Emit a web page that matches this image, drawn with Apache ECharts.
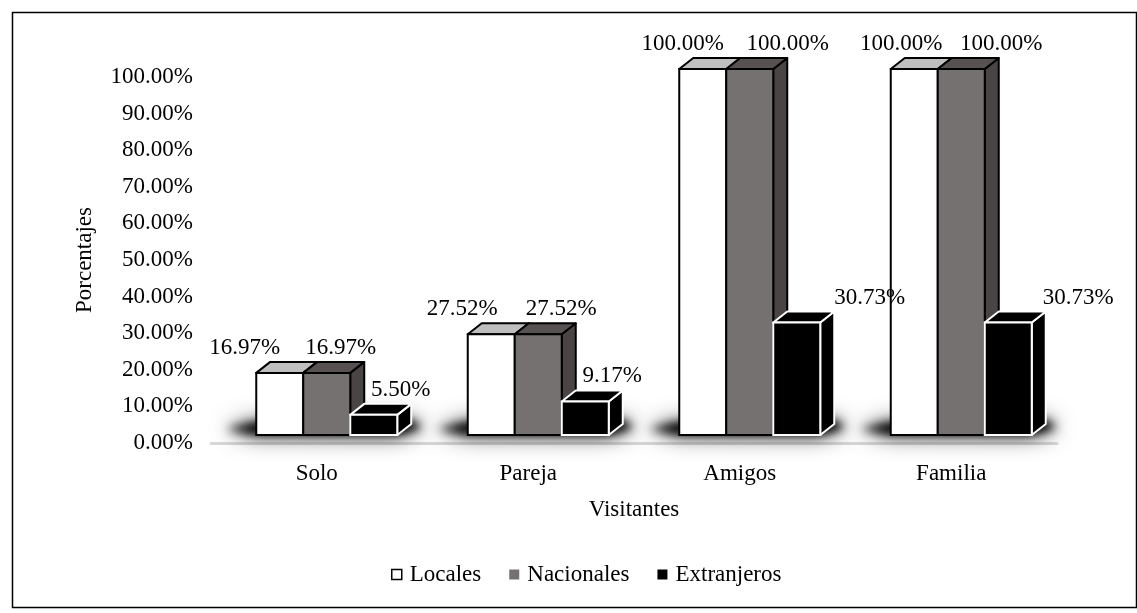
<!DOCTYPE html>
<html>
<head>
<meta charset="utf-8">
<title>Visitantes</title>
<script src="https://cdn.jsdelivr.net/npm/echarts@6/dist/echarts.min.js"></script>
<style>
html,body{margin:0;padding:0;background:#fff;}
#main{width:1137px;height:613px;}
</style>
</head>
<body>
<div id="main"></div>
<script>
//类别
var categories = ['Solo', 'Pareja', 'Amigos', 'Familia'];
//系列名称
var seriesNames = ['Locales', 'Nacionales', 'Extranjeros'];
//数值(百分比)
var locales     = [16.97, 27.52, 100.00, 100.00];
var nacionales  = [16.97, 27.52, 100.00, 100.00];
var extranjeros = [5.50, 9.17, 30.73, 30.73];
//y轴刻度
var yMin = 0, yMax = 100, yStep = 10;

//样式: 正面/顶面/侧面/边框
var faceColors = [
	{front: '#ffffff', top: '#bfbfbf', side: '#808080', stroke: '#000000'},
	{front: '#767171', top: '#575151', side: '#4a4444', stroke: '#000000'},
	{front: '#000000', top: '#000000', side: '#000000', stroke: '#ffffff'}
];
//标签水平偏移(相对柱子正面中心)
var labelDx = [
	[-35, -29, -20, -13],
	[14, 23, 38, 40],
	[27, 27, 73, 70]
];
var barW = 47;        //柱宽
var depthX = 14, depthY = 11; //3D深度
var groupDx = 10;     //组偏移
var liftY = 8;        //柱子相对坐标轴上移
var fontName = 'Liberation Serif';
var fontSize = 23;
var far = 2000;       //阴影形状移出画面, 只显示模糊的影子

var myChart = echarts.init(document.getElementById('main'));

//画3D柱
var makeBar = function(k){
	return function(params, api){
		var idx = api.value(0);
		var v = api.value(1);
		var base = api.coord([idx, 0]);
		var topPt = api.coord([idx, v]);
		var x0 = base[0] + groupDx - barW * 1.5 + k * barW;
		var x1 = x0 + barW;
		var yb = base[1] - liftY;
		var yt = topPt[1] - liftY;
		var c = faceColors[k];
		var lw = 2;
		var txt = v.toFixed(2) + '%';
		return {
			type: 'group',
			children: [
				{type: 'polygon', shape: {points: [[x1, yb], [x1 + depthX, yb - depthY], [x1 + depthX, yt - depthY], [x1, yt]]},
					style: {fill: c.side, stroke: c.stroke, lineWidth: lw, lineJoin: 'round'}},
				{type: 'polygon', shape: {points: [[x0, yt], [x1, yt], [x1 + depthX, yt - depthY], [x0 + depthX, yt - depthY]]},
					style: {fill: c.top, stroke: c.stroke, lineWidth: lw, lineJoin: 'round'}},
				{type: 'rect', shape: {x: x0, y: yt, width: barW, height: yb - yt},
					style: {fill: c.front, stroke: c.stroke, lineWidth: lw}},
				{type: 'text', x: (x0 + x1) / 2 + labelDx[k][idx], y: yt - 25,
					style: {text: txt, fill: '#000', font: fontSize + 'px "' + fontName + '"', align: 'center', verticalAlign: 'middle'}}
			]
		};
	};
};

//地面阴影(柱子底部左右的模糊阴影)
var renderShadow = function(params, api){
	var idx = api.value(0);
	var base = api.coord([idx, 0]);
	var x0 = base[0] + groupDx - barW * 1.5;
	var x1 = x0 + barW * 3 + depthX;
	var yb = base[1] - liftY;
	var left = x0 - 30, right = x1 + 10;
	var pts = [[left, yb - 6], [x0, yb - 2], [x1 - depthX, yb - 2], [right, yb - 8], [x1, yb - depthY - 2], [x0, yb - depthY]];
	var layer = function(blur){
		return {
			type: 'polygon', y: far,
			shape: {points: pts},
			style: {fill: '#000', shadowBlur: blur, shadowColor: '#000', shadowOffsetY: -far}
		};
	};
	return {type: 'group', children: [layer(24), layer(14), layer(8)]};
};

var toData = function(arr){
	var out = [];
	for(var i = 0; i < arr.length; i++){
		out.push([i, arr[i]]);
	}
	return out;
};

var option = {
	backgroundColor: '#fff',
	animation: false,
	textStyle: {fontFamily: fontName, color: '#000'},
	grid: {left: 211, right: 80, top: 77, bottom: 170},
	legend: {
		bottom: 22, left: 386,
		itemWidth: 10, itemHeight: 10, itemGap: 28,
		textStyle: {fontFamily: fontName, fontSize: fontSize, color: '#000', padding: [0, 0, 0, 3]},
		data: [
			{name: seriesNames[0], icon: 'rect', itemStyle: {color: '#fff', borderColor: '#000', borderWidth: 1.5}},
			{name: seriesNames[1], icon: 'rect', itemStyle: {color: '#767171', borderWidth: 0}},
			{name: seriesNames[2], icon: 'rect', itemStyle: {color: '#000', borderWidth: 0}}
		]
	},
	xAxis: {
		type: 'category',
		data: categories,
		name: 'Visitantes',
		nameLocation: 'middle',
		nameGap: 55,
		nameTextStyle: {fontFamily: fontName, fontSize: fontSize, color: '#000'},
		axisLine: {show: true, lineStyle: {color: '#d9d9d9', width: 3}},
		axisTick: {show: false},
		axisLabel: {fontFamily: fontName, fontSize: fontSize, color: '#000', margin: 19}
	},
	yAxis: {
		type: 'value',
		min: yMin, max: yMax, interval: yStep,
		name: 'Porcentajes',
		nameLocation: 'middle',
		nameGap: 115,
		nameTextStyle: {fontFamily: fontName, fontSize: fontSize, color: '#000'},
		axisLine: {show: false},
		axisTick: {show: false},
		splitLine: {show: false},
		axisLabel: {fontFamily: fontName, fontSize: fontSize, color: '#000', margin: 18,
			formatter: function(v){ return v.toFixed(2) + '%'; }}
	},
	graphic: [
		{type: 'rect', left: 10, top: 10, shape: {width: 1124, height: 595},
			style: {fill: 'none', stroke: '#000', lineWidth: 1.5}, silent: true}
	],
	series: [
		{name: 'shadow', type: 'custom', renderItem: renderShadow, data: toData(locales), z: 1, silent: true, clip: false},
		{name: seriesNames[0], type: 'custom', renderItem: makeBar(0), data: toData(locales), itemStyle: {color: '#fff'}, z: 2},
		{name: seriesNames[1], type: 'custom', renderItem: makeBar(1), data: toData(nacionales), itemStyle: {color: '#767171'}, z: 3},
		{name: seriesNames[2], type: 'custom', renderItem: makeBar(2), data: toData(extranjeros), itemStyle: {color: '#000'}, z: 4}
	]
};
myChart.setOption(option);
</script>
</body>
</html>
